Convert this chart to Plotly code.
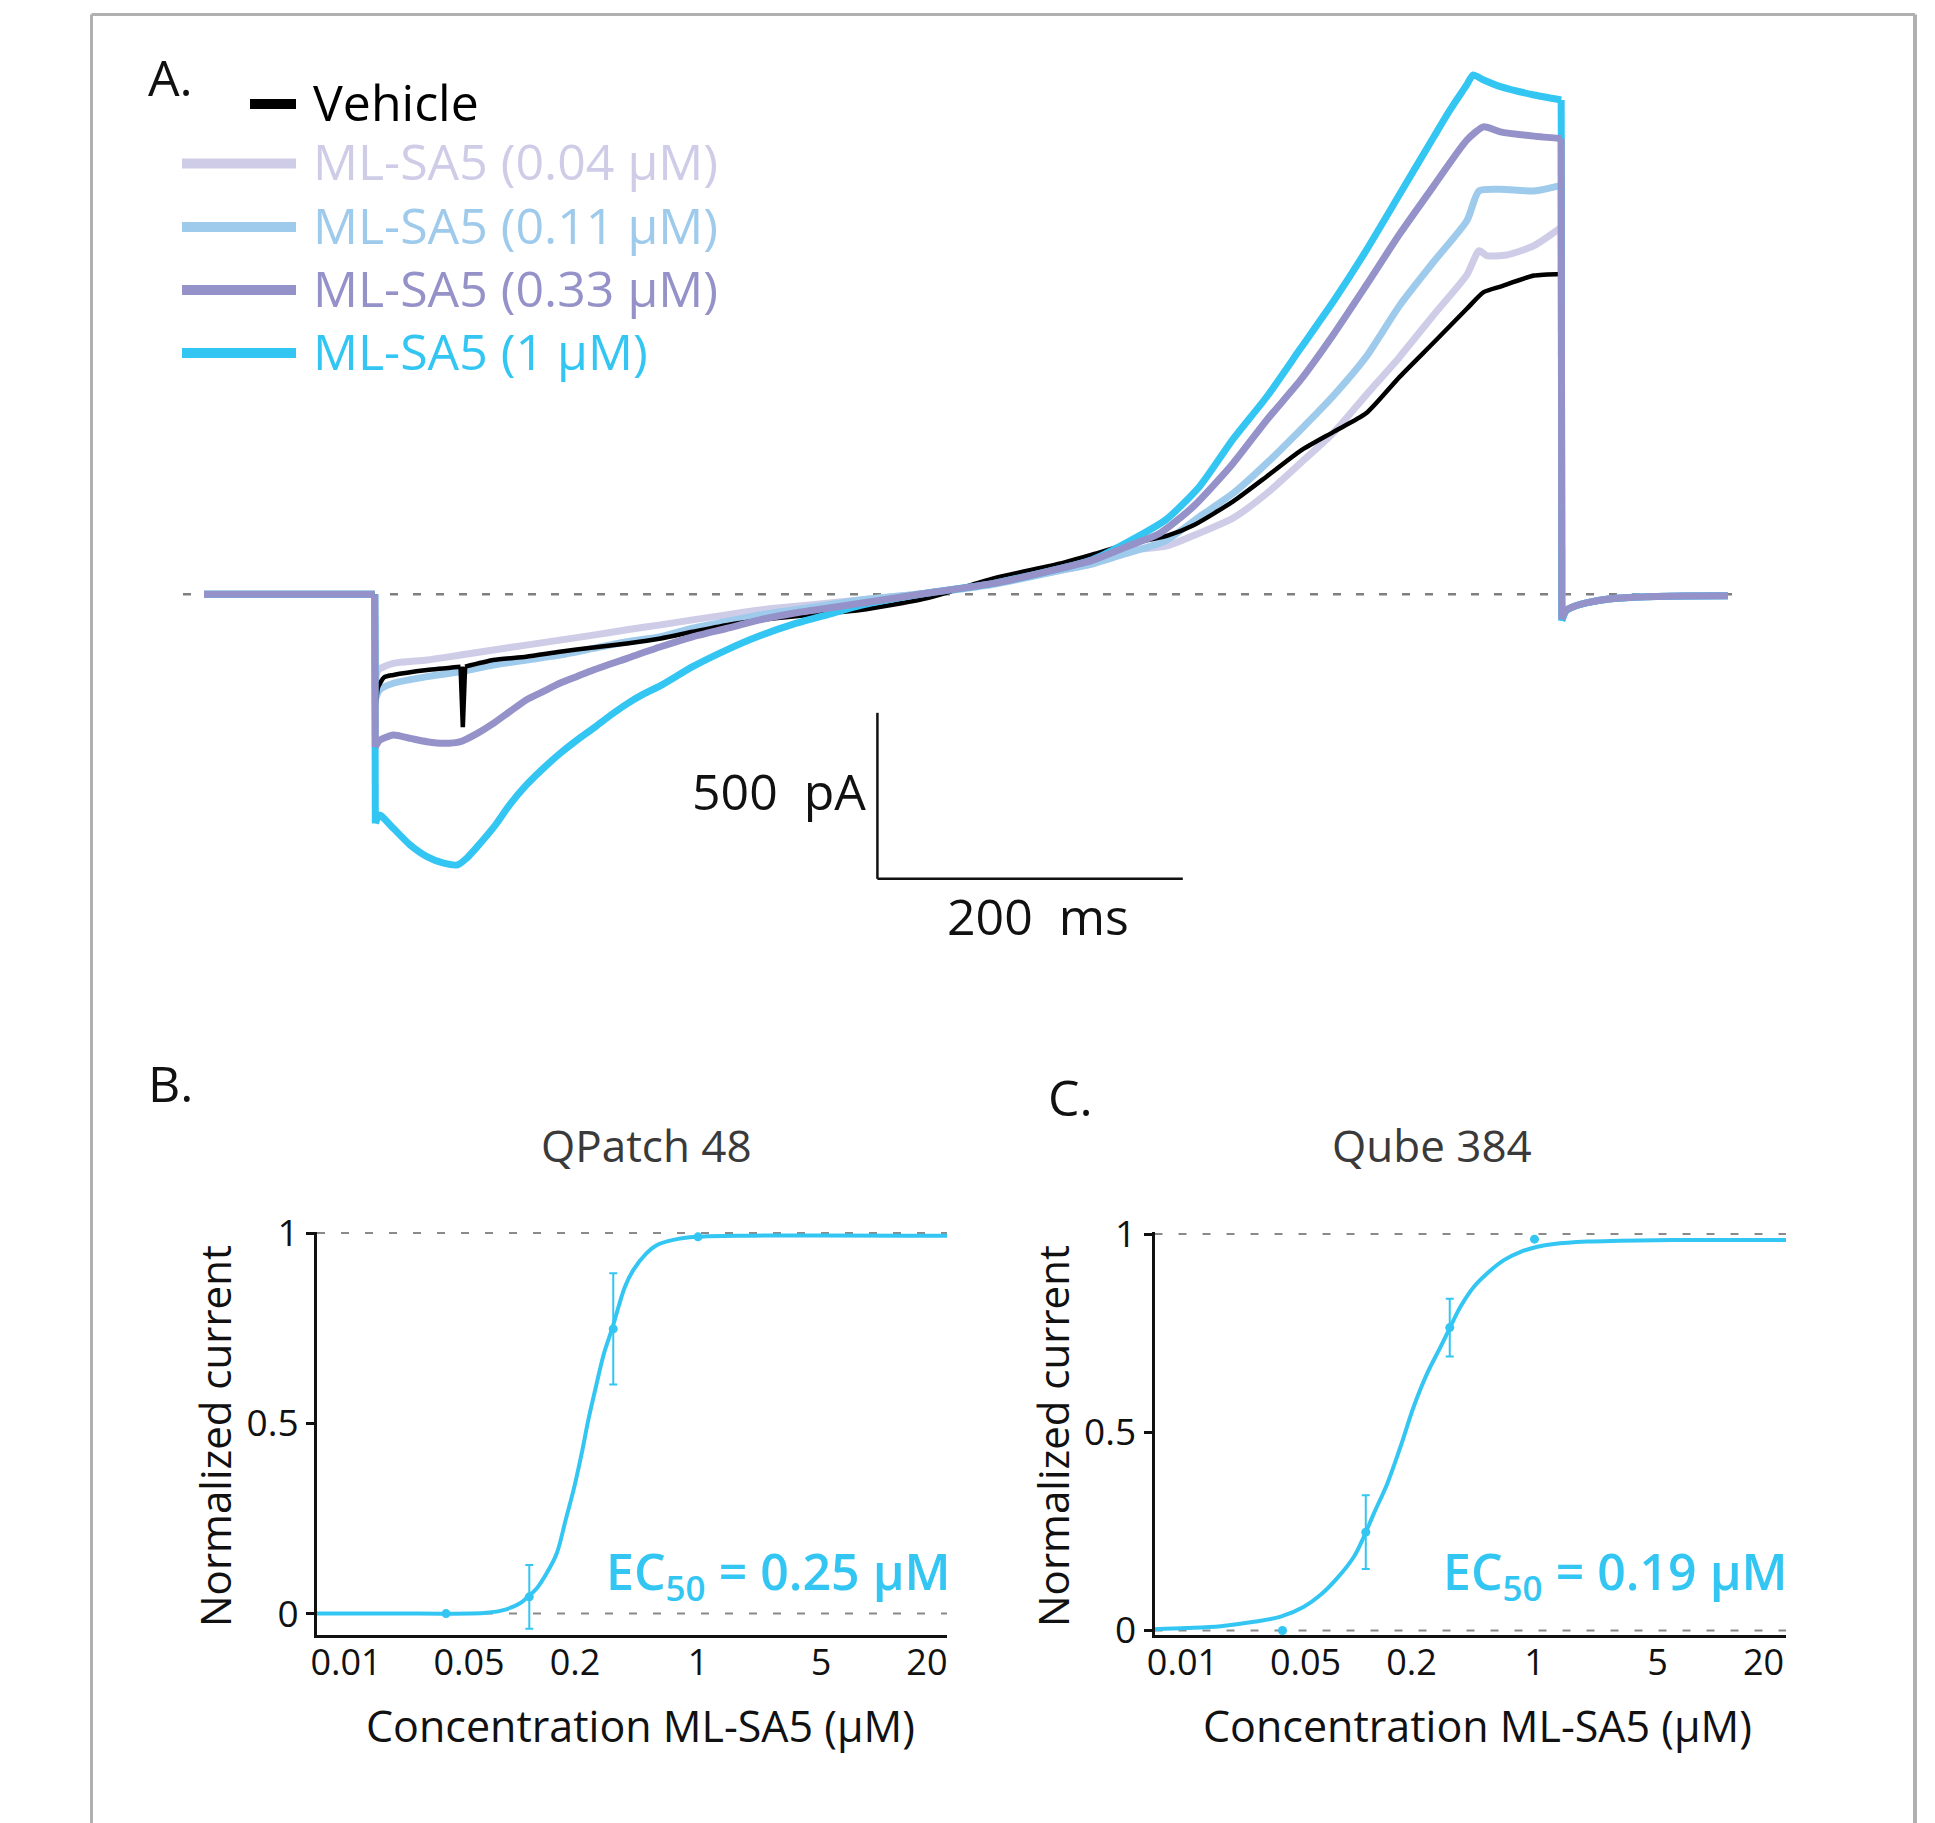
import plotly.graph_objects as go

W, H = 1935, 1823
FONT = "Open Sans"

# ---------------- Panel A: current traces (time in ms, current in pA) ----------------
T_VEH = [0, 111.8, 112.2, 114, 118, 124, 146, 168, 169.5, 171, 189.5, 211, 233, 255, 277, 299, 320, 342, 364, 386,
         408, 430, 473, 517, 561, 582, 604, 630, 648, 674, 696, 718, 740, 761, 783, 805, 827, 838, 849, 871,
         888.8, 889.2, 892, 898, 906, 920, 940, 970, 998]
I_VEH = [0, 0, -360, -280, -250, -243, -228, -218, -400, -218, -198, -188, -173, -160, -148, -133, -113, -93, -77, -67,
         -57, -47, -12, 48, 93, 120, 150, 175, 208, 280, 355, 432, 490, 545, 655, 757, 860, 910, 927, 960,
         965, -75, -48, -35, -25, -14, -8, -5, -4]

T_004 = [0, 111.8, 112.2, 114, 124, 146, 168, 189.5, 211, 233, 255, 277, 299, 320, 342, 364, 386, 408, 430, 473,
         517, 561, 582, 604, 630, 648, 674, 696, 718, 740, 761, 783, 805, 827, 835, 840, 853, 871, 888.8, 889.2,
         892, 898, 906, 920, 940, 970, 998]
I_004 = [0, 0, -270, -228, -208, -198, -183, -168, -153, -138, -123, -107, -92, -77, -62, -47, -37, -27, -17, 3,
         33, 72, 92, 130, 145, 177, 230, 304, 395, 488, 600, 715, 840, 962, 1035, 1020, 1022, 1050, 1105, -75,
         -48, -35, -25, -14, -8, -5, -4]

T_011 = [0, 111.8, 112.2, 115, 124, 146, 168, 189.5, 211, 233, 255, 277, 299, 320, 342, 364, 386, 408, 430, 473,
         517, 561, 582, 604, 630, 652, 674, 696, 718, 740, 761, 783, 805, 827, 835, 849, 871, 888.8, 889.2, 892,
         898, 906, 920, 940, 970, 998]
I_011 = [0, 0, -318, -288, -268, -248, -233, -213, -198, -183, -163, -143, -128, -102, -82, -62, -47, -32, -17, 3,
         30, 72, 92, 123, 162, 234, 304, 395, 495, 600, 715, 870, 1000, 1125, 1215, 1220, 1215, 1232, -75, -48,
         -35, -25, -14, -8, -5, -4]

T_033 = [0, 111.8, 112.2, 115, 124, 135, 146, 157, 168, 179, 189.5, 200, 211, 222, 233, 244, 255, 277, 299, 320,
         342, 364, 386, 408, 430, 473, 517, 561, 582, 604, 626, 648, 674, 696, 718, 740, 761, 783, 805, 827,
         838, 849, 871, 888.8, 889.2, 892, 898, 906, 920, 940, 970, 998]
I_033 = [0, 0, -460, -440, -424, -434, -444, -449, -444, -419, -389, -354, -318, -293, -268, -248, -228, -193, -158, -128,
         -103, -77, -57, -42, -27, 3, 33, 78, 103, 143, 184, 265, 395, 525, 645, 785, 930, 1085, 1228, 1368,
         1408, 1393, 1380, 1373, -75, -48, -35, -25, -14, -8, -5, -4]

T_1 = [0, 111.8, 112.2, 115, 124, 135, 146, 157, 166, 172, 179, 190, 200, 211, 222, 233, 244, 256, 266, 277,
       288, 299, 320, 342, 364, 386, 408, 430, 473, 517, 561, 582, 604, 630, 652, 674, 696, 718, 740, 761,
       783, 805, 816, 827, 831, 838, 849, 871, 888.8, 889.2, 892, 898, 906, 920, 940, 970, 998]
I_1 = [0, 0, -690, -665, -705, -755, -790, -810, -815, -795, -760, -700, -635, -575, -525, -480, -440, -400, -365, -330,
       -300, -275, -218, -168, -125, -90, -62, -33, 3, 33, 78, 105, 155, 225, 325, 468, 595, 740, 885, 1035,
       1205, 1375, 1459, 1535, 1564, 1549, 1529, 1504, 1489, -80, -50, -35, -25, -14, -8, -5, -4]

SERIES_NAMES = ["Vehicle", "ML-SA5 (0.04 µM)", "ML-SA5 (0.11 µM)", "ML-SA5 (0.33 µM)", "ML-SA5 (1 µM)"]
SERIES_COLORS = ["#000000", "#cfcce8", "#9ecaec", "#9592c9", "#33c6f3"]

# time points after which the trace jumps (voltage steps, artefact spike): drawn straight
STEP_TIMES = [111.8, 888.8]
VEH_SPIKE_TIMES = [168, 169.5]

SCALE_T0, SCALE_I0 = 441.0, -857.0     # corner of the scale bar
SCALE_DT, SCALE_DI = 200.0, 500.0      # 200 ms, 500 pA

# ---------------- Panels B & C: concentration-response ----------------
X_TICKS = [0.01, 0.05, 0.2, 1, 5, 20]
X_TICKTEXT = ["0.01", "0.05", "0.2", "1", "5", "20"]
Y_TICKS = [0, 0.5, 1]
Y_TICKTEXT = ["0", "0.5", "1"]

B_CONC = [0.037, 0.11, 0.33, 1.0]
B_MEAN = [0.0, 0.044, 0.748, 0.990]
B_ERR = [None, 0.084, 0.146, None]
B_FIT_CONC = [0.00684, 0.0263, 0.0507, 0.0630, 0.0783, 0.0975, 0.1072, 0.1211, 0.1380, 0.1574, 0.1770, 0.1982,
              0.2183, 0.2382, 0.2630, 0.2924, 0.3258, 0.3846, 0.4295, 0.5105, 0.5821, 0.7244, 0.9840, 2.065, 26.0]
B_FIT_RESP = [0.0, 0.0, 0.0, 0.002, 0.009, 0.027, 0.043, 0.066, 0.106, 0.158, 0.246, 0.333,
              0.421, 0.509, 0.596, 0.684, 0.750, 0.859, 0.903, 0.947, 0.968, 0.982, 0.990, 0.993, 0.993]

C_CONC = [0.037, 0.11, 0.33, 1.0]
C_MEAN = [0.0, 0.248, 0.764, 0.987]
C_ERR = [None, 0.093, 0.073, None]
C_FIT_CONC = [0.00689, 0.01064, 0.01648, 0.02547, 0.03614, 0.04898, 0.06095, 0.07568, 0.09419, 0.1074, 0.1225,
              0.1459, 0.1734, 0.2061, 0.2460, 0.2931, 0.3311, 0.3802, 0.4529, 0.5395, 0.6699, 0.8337, 1.038,
              1.288, 1.995, 3.083, 6.194, 26.85]
C_FIT_RESP = [0.003, 0.006, 0.011, 0.022, 0.035, 0.060, 0.090, 0.132, 0.186, 0.237, 0.296,
              0.371, 0.464, 0.565, 0.649, 0.716, 0.764, 0.817, 0.867, 0.901, 0.934, 0.955, 0.968,
              0.975, 0.981, 0.983, 0.985, 0.985]

B_TITLE, C_TITLE = "QPatch 48", "Qube 384"
B_EC50, C_EC50 = "0.25", "0.19"
CYAN = "#33c6f3"

# ---------------- helpers (pixel -> paper) ----------------
def fx(p):
    return p / W


def fy(p):
    return 1 - p / H


# panel A calibration: 204 px = 0 ms, 1.527 px/ms ; 594.3 px = 0 pA, 0.332 px/pA
def t_at(p):
    return (p - 204) / 1.527


def i_at(p):
    return (594.3 - p) / 0.332


def runs(tx, straight_after):
    """Split a trace into runs: straight pieces at the jumps, smoothed elsewhere."""
    out, start, mode = [], 0, None
    for j in range(len(tx) - 1):
        m = "linear" if tx[j] in straight_after else "spline"
        if mode is None:
            mode = m
        elif m != mode:
            out.append((start, j, mode))
            start, mode = j, m
    out.append((start, len(tx) - 1, mode))
    return out


fig = go.Figure()

traces_A = [(T_004, I_004, 1, 7), (T_011, I_011, 2, 7), (T_VEH, I_VEH, 0, 4.5), (T_1, I_1, 4, 7), (T_033, I_033, 3, 7)]
for tx, iy, k, wdt in traces_A:
    straight = set(STEP_TIMES) | (set(VEH_SPIKE_TIMES) if k == 0 else set())
    for a, b, mode in runs(tx, straight):
        line = dict(color=SERIES_COLORS[k], width=wdt, shape=mode)
        if mode == "spline":
            line["smoothing"] = 0.6
        fig.add_trace(go.Scatter(x=tx[a:b + 1], y=iy[a:b + 1], mode="lines", name=SERIES_NAMES[k], line=line,
                                 xaxis="x", yaxis="y", showlegend=False, hoverinfo="skip"))

# panel B / C
for (conc, mean, err, fc, fr, xa, ya) in [
        (B_CONC, B_MEAN, B_ERR, B_FIT_CONC, B_FIT_RESP, "x2", "y2"),
        (C_CONC, C_MEAN, C_ERR, C_FIT_CONC, C_FIT_RESP, "x3", "y3")]:
    fig.add_trace(go.Scatter(x=fc, y=fr, mode="lines", line=dict(color=CYAN, width=4, shape="spline"),
                             xaxis=xa, yaxis=ya, showlegend=False, hoverinfo="skip", cliponaxis=False))
    fig.add_trace(go.Scatter(x=conc, y=mean, mode="markers", marker=dict(color=CYAN, size=9),
                             error_y=dict(type="data", array=err, visible=True, color=CYAN, thickness=2, width=4),
                             xaxis=xa, yaxis=ya, showlegend=False, hoverinfo="skip", cliponaxis=False))

shapes = []
# page frame
frame = dict(color="#b0b0b0", width=3)
shapes.append(dict(type="line", xref="paper", yref="paper", x0=fx(91.5), x1=fx(1915), y0=fy(14.5), y1=fy(14.5), line=frame))
shapes.append(dict(type="line", xref="paper", yref="paper", x0=fx(91.5), x1=fx(91.5), y0=fy(14.5), y1=fy(1823), line=frame))
shapes.append(dict(type="line", xref="paper", yref="paper", x0=fx(1915), x1=fx(1915), y0=fy(14.5), y1=fy(1823), line=dict(color="#b0b0b0", width=4)))

# baseline
shapes.append(dict(type="line", xref="x", yref="y", x0=t_at(183), x1=t_at(1740), y0=0, y1=0, layer="below",
                   line=dict(color="#7f7f7f", width=2.5, dash="8px,15px")))
# scale bar
shapes.append(dict(type="line", xref="x", yref="y", x0=SCALE_T0, x1=SCALE_T0, y0=SCALE_I0, y1=SCALE_I0 + SCALE_DI,
                   line=dict(color="#111111", width=2.5)))
shapes.append(dict(type="line", xref="x", yref="y", x0=SCALE_T0, x1=SCALE_T0 + SCALE_DT, y0=SCALE_I0, y1=SCALE_I0,
                   line=dict(color="#111111", width=2.5)))

# dashed reference lines at 0 and 1
for xa, ya in [("x2", "y2"), ("x3", "y3")]:
    for v in (0, 1):
        shapes.append(dict(type="line", xref=xa + " domain", yref=ya, x0=0, x1=1, y0=v, y1=v, layer="below",
                           line=dict(color="#8a8a8a", width=2, dash="8px,16px")))

# legend swatches
leg_y = [104, 163.5, 227, 290, 353]
leg_x0 = [250, 182, 182, 182, 182]
for k in range(5):
    shapes.append(dict(type="line", xref="paper", yref="paper", x0=fx(leg_x0[k]), x1=fx(296), y0=fy(leg_y[k]), y1=fy(leg_y[k]),
                       line=dict(color=SERIES_COLORS[k], width=10)))

ann = []


def text(x, y, s, size, color="#000000", xanchor="left", angle=0, weight=None):
    f = dict(family=FONT, size=size, color=color)
    if weight:
        f["weight"] = weight
    ann.append(dict(x=fx(x), y=fy(y), xref="paper", yref="paper", text=s, showarrow=False, xanchor=xanchor,
                    yanchor="middle", font=f, textangle=angle))


text(146, 77, "A.", 50, "#111111")
text(146, 1083, "B.", 50, "#111111")
text(1046, 1097, "C.", 50, "#111111")
for k in range(5):
    text(311, leg_y[k] - 2, SERIES_NAMES[k], 50, SERIES_COLORS[k] if k else "#000000")
text(868, 791, "500  pA", 50, "#111111", xanchor="right")
text(1038, 916, "200  ms", 50, "#111111", xanchor="center")

text(646, 1145, B_TITLE, 44, "#3a3a3a", xanchor="center")
text(1432, 1145, C_TITLE, 44, "#3a3a3a", xanchor="center")
text(214, 1436, "Normalized current", 42, "#111111", xanchor="center", angle=-90)
text(1052, 1436, "Normalized current", 42, "#111111", xanchor="center", angle=-90)
text(640, 1725, "Concentration ML-SA5 (µM)", 43, "#111111", xanchor="center")
text(1477, 1725, "Concentration ML-SA5 (µM)", 43, "#111111", xanchor="center")
text(953, 1574, "EC<sub>50</sub> = " + B_EC50 + " µM", 50, CYAN, xanchor="right", weight=600)
text(1790, 1574, "EC<sub>50</sub> = " + C_EC50 + " µM", 50, CYAN, xanchor="right", weight=600)

xax_common = dict(type="log", showline=True, linecolor="#111111", linewidth=3, ticks="", tickvals=X_TICKS,
                  ticktext=X_TICKTEXT, tickfont=dict(family=FONT, size=36, color="#111111"),
                  showgrid=False, zeroline=False, automargin=False, ticklabelstandoff=-6)
yax_common = dict(showline=True, linecolor="#111111", linewidth=3, ticks="outside", ticklen=8, tickwidth=2.5,
                  tickcolor="#111111", tickvals=Y_TICKS, ticktext=Y_TICKTEXT,
                  tickfont=dict(family=FONT, size=37, color="#111111"), showgrid=False, zeroline=False,
                  automargin=False)

fig.update_layout(
    template="none",
    width=W, height=H, autosize=False, margin=dict(l=0, r=0, t=0, b=0, pad=0, autoexpand=False),
    paper_bgcolor="white", plot_bgcolor="rgba(0,0,0,0)", hovermode=False, showlegend=False,
    xaxis=dict(domain=[fx(150), fx(1800)], range=[t_at(150), t_at(1800)], visible=False, anchor="y", automargin=False),
    yaxis=dict(domain=[fy(960), fy(40)], range=[i_at(960), i_at(40)], visible=False, anchor="x", automargin=False),
    xaxis2=dict(domain=[fx(317), fx(947)], range=[-2.165, 1.415], anchor="y2", **xax_common),
    yaxis2=dict(domain=[fy(1634.6), fy(1232)], range=[(1613.6 - 1634.6) / 380.6, (1613.6 - 1232) / 380.6],
                anchor="x2", **yax_common),
    xaxis3=dict(domain=[fx(1154.5), fx(1786)], range=[-2.159, 1.429], anchor="y3", **xax_common),
    yaxis3=dict(domain=[fy(1634.6), fy(1232)], range=[(1630.5 - 1634.6) / 396.5, (1630.5 - 1232) / 396.5],
                anchor="x3", **yax_common),
    shapes=shapes, annotations=ann,
)

fig.write_html("out.html", config={"responsive": False, "displayModeBar": False})
